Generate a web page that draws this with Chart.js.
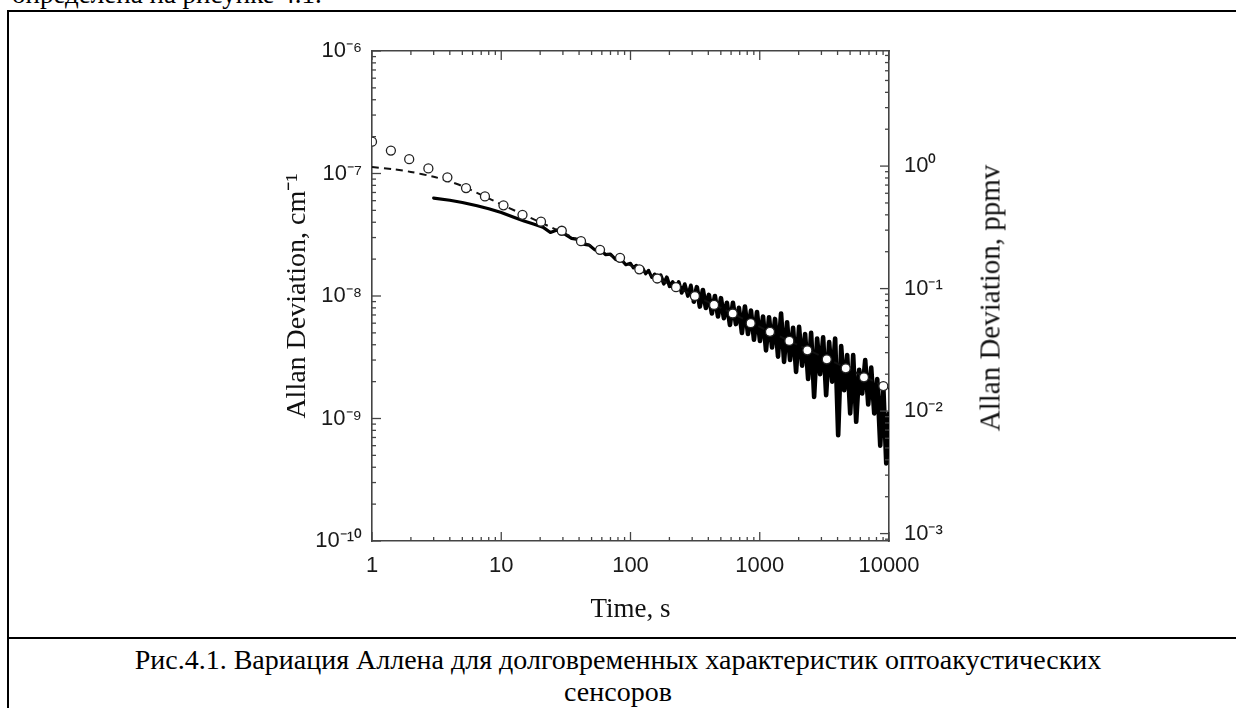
<!DOCTYPE html>
<html><head><meta charset="utf-8">
<script src="https://cdn.jsdelivr.net/npm/chart.js@4.4.1/dist/chart.umd.min.js"></script>
<style>
html,body{margin:0;padding:0;background:#fff;width:1236px;height:708px;overflow:hidden;position:relative}
#top{position:absolute;left:12px;top:-20px;font-family:"Liberation Serif";font-size:27px;line-height:28px;white-space:nowrap;color:#000}
#frame{position:absolute;left:7px;top:10px;width:1260px;height:760px;border-left:2px solid #000;border-top:2px solid #000;box-sizing:border-box}
#sep{position:absolute;left:7px;top:637px;width:1260px;height:2px;background:#000}
#cap{position:absolute;left:0;top:644px;width:1236px;text-align:center;font-family:"Liberation Serif";font-size:28px;line-height:32px;color:#000}
#wrap{position:absolute;left:0;top:0;width:1236px;height:640px}
#rt{position:absolute;left:990px;top:298px;transform:translate(-50%,-50%) rotate(-90deg);font-family:"Liberation Serif";font-size:29px;white-space:nowrap;color:#111}
</style></head>
<body>
<div id="top">определена на рисунке 4.1.</div>
<div id="frame"></div>
<div id="sep"></div>
<div id="wrap"><canvas id="c" width="1236" height="640"></canvas></div>
<div id="rt">Allan Deviation, ppmv</div>
<div id="cap">Рис.4.1. Вариация Аллена для долговременных характеристик оптоакустических<br>сенсоров</div>
<script>
// ---- data ----
const xTickValues = [1, 10, 100, 1000, 10000];
const yTickValues = [1e-10, 1e-9, 1e-8, 1e-7, 1e-6];
const y2TickValues = [1e-3, 1e-2, 1e-1, 1];
const xMin = 1, xMax = 10000;
const yMin = 1e-10, yMax = 1e-6;
const y2Min = 8.7e-4, y2Max = 8.7;

// open circles
const tauCircles = [1.0, 1.4, 1.94, 2.73, 3.83, 5.34, 7.48, 10.4, 14.6, 20.3, 29.4, 41.4, 58.1, 83, 117, 161, 225, 315, 443, 618, 851, 1200, 1694, 2335, 3300, 4625, 6400, 9040];
const devCircles = [1.82e-7, 1.54e-7, 1.31e-7, 1.10e-7, 9.3e-8, 7.6e-8, 6.5e-8, 5.5e-8, 4.6e-8, 4.04e-8, 3.41e-8, 2.8e-8, 2.38e-8, 2.05e-8, 1.65e-8, 1.39e-8, 1.18e-8, 1.0e-8, 8.45e-9, 7.2e-9, 6.0e-9, 5.1e-9, 4.3e-9, 3.6e-9, 3.04e-9, 2.57e-9, 2.17e-9, 1.84e-9];

// dashed fit curve
const tauFit = [1, 1.5, 2, 3, 4, 5, 7, 10, 20, 50, 100, 200, 500, 1000, 2000, 5000, 10000];
const devFit = [1.13e-7, 1.08e-7, 1.03e-7, 9.4e-8, 8.6e-8, 7.9e-8, 6.7e-8, 5.6e-8, 4.0e-8, 2.55e-8, 1.78e-8, 1.25e-8, 8.0e-9, 5.6e-9, 3.95e-9, 2.5e-9, 1.75e-9];

// solid measured curve (noisy)
const tauMeas = [3, 4, 5, 6.5, 8, 10, 12.5, 15, 18, 21, 24, 27, 31, 35, 39, 43, 48, 53, 58, 64, 70, 77, 85, 92,
  100, 105, 111, 117, 124, 131, 138, 146, 154, 162, 171, 181, 191, 201, 212, 224, 236, 249, 263, 278, 293, 309, 326, 344, 363, 383,
  404, 426, 450, 475, 501, 528, 557, 588, 620, 654, 690, 728, 768, 811, 855, 902, 952, 1004, 1060, 1118, 1180, 1245, 1313, 1385,
  1462, 1542, 1627, 1716, 1811, 1910, 2015, 2126, 2243, 2367, 2497, 2634, 2779, 2932, 3093, 3263, 3443, 3632, 3832, 4043, 4265,
  4500, 4747, 5008, 5284, 5574, 5881, 6204, 6546, 6906, 7285, 7686, 8109, 8555, 9025, 9522, 10000];
const devMeas = [6.3e-8, 6.05e-8, 5.8e-8, 5.45e-8, 5.15e-8, 4.8e-8, 4.4e-8, 4.1e-8, 3.85e-8, 3.65e-8, 3.3e-8, 3.45e-8, 3.2e-8, 2.95e-8, 2.9e-8, 2.65e-8, 2.6e-8, 2.38e-8, 2.4e-8, 2.18e-8, 2.2e-8, 1.98e-8, 1.98e-8, 1.8e-8,
  1.85e-8, 1.7e-8, 1.78e-8, 1.6e-8, 1.7e-8, 1.52e-8, 1.62e-8, 1.42e-8, 1.5e-8, 1.36e-8, 1.48e-8, 1.26e-8, 1.42e-8, 1.2e-8, 1.3e-8, 1.12e-8, 1.3e-8, 1.06e-8, 1.25e-8, 1.0e-8, 1.22e-8, 9.0e-9, 1.18e-8, 8.2e-9, 1.12e-8, 8.0e-9,
  1.02e-8, 7.2e-9, 1.0e-8, 6.8e-9, 9.6e-9, 6.6e-9, 8.8e-9, 5.8e-9, 8.8e-9, 5.9e-9, 8.0e-9, 5.0e-9, 8.2e-9, 4.9e-9, 7.6e-9, 4.4e-9, 7.4e-9, 4.3e-9, 6.8e-9, 3.6e-9, 6.7e-9, 3.8e-9, 6.5e-9, 3.2e-9,
  7.2e-9, 2.9e-9, 6.1e-9, 3.0e-9, 5.5e-9, 2.4e-9, 5.6e-9, 2.7e-9, 4.9e-9, 2.1e-9, 5.0e-9, 1.5e-9, 4.5e-9, 2.3e-9, 4.6e-9, 1.55e-9, 4.2e-9, 2.0e-9, 4.5e-9, 7.3e-10, 3.9e-9,
  1.7e-9, 3.3e-9, 1.1e-9, 3.3e-9, 9.4e-10, 2.5e-9, 1.6e-9, 3.0e-9, 1.3e-9, 2.6e-9, 1.1e-9, 2.1e-9, 6.0e-10, 1.9e-9, 4.3e-10, 1.1e-9];

// ---- helpers ----
const SUP = {'-':'\u207B','0':'\u2070','1':'\u00B9','2':'\u00B2','3':'\u00B3','4':'\u2074','5':'\u2075','6':'\u2076','7':'\u2077','8':'\u2078','9':'\u2079'};
const pow10Label = v => '10' + String(Math.round(Math.log10(v))).split('').map(c => SUP[c]).join('');
const pts = (xs, ys) => xs.map((x, i) => ({x, y: ys[i]}));

const tickMarks = {
  id: 'tickMarks',
  afterDatasetsDraw(chart) {
    const {ctx, chartArea: a, scales} = chart;
    ctx.save();
    ctx.strokeStyle = '#444';
    ctx.lineWidth = 1.3;
    [['x','bottom'],['x2','top'],['y','left'],['y2','right']].forEach(([id, side]) => {
      const s = scales[id];
      const lo = Math.floor(Math.log10(s.min)), hi = Math.ceil(Math.log10(s.max));
      for (let e = lo; e <= hi; e++) {
        for (let m = 1; m <= 9; m++) {
          const v = m * Math.pow(10, e);
          if (v < s.min * 0.9999 || v > s.max * 1.0001) continue;
          const p = s.getPixelForValue(v);
          const L = m === 1 ? 9 : 4;
          ctx.beginPath();
          if (side === 'bottom') { ctx.moveTo(p, a.bottom); ctx.lineTo(p, a.bottom - L); }
          else if (side === 'top') { ctx.moveTo(p, a.top); ctx.lineTo(p, a.top + L); }
          else if (side === 'left') { ctx.moveTo(a.left, p); ctx.lineTo(a.left + L, p); }
          else { ctx.moveTo(a.right, p); ctx.lineTo(a.right - L, p); }
          ctx.stroke();
        }
      }
    });
    ctx.restore();
  }
};

const axisBorder = {display: true, color: '#444', width: 1.6};
const tickFont = {family: 'Liberation Sans, Arial, sans-serif', size: 22};

new Chart(document.getElementById('c'), {
  type: 'line',
  data: {
    datasets: [
      {label: 'circles', data: pts(tauCircles, devCircles), showLine: false, pointStyle: 'circle', pointRadius: 4.5,
       pointBorderColor: '#222', pointBackgroundColor: '#fff', pointBorderWidth: 1.3, borderColor: '#222', order: 0, xAxisID: 'x', yAxisID: 'y'},
      {label: 'fit', data: pts(tauFit, devFit), borderColor: '#111', borderWidth: 2, borderDash: [7, 5], pointRadius: 0,
       tension: 0.3, fill: false, order: 1, xAxisID: 'x', yAxisID: 'y'},
      {label: 'measured', data: pts(tauMeas, devMeas), borderColor: '#000', borderWidth: 3.2, pointRadius: 0,
       borderJoinStyle: 'round', borderCapStyle: 'round',
       segment: {borderWidth: c => c.p0.parsed.x >= 300 ? 4.6 : (c.p0.parsed.x >= 150 ? 3.8 : 3.2)},
       tension: 0, fill: false, order: 2, xAxisID: 'x', yAxisID: 'y'}
    ]
  },
  options: {
    responsive: false,
    devicePixelRatio: 1,
    animation: false,
    events: [],
    layout: {padding: {left: 281, right: 287, top: 51, bottom: 0}},
    plugins: {legend: {display: false}, tooltip: {enabled: false}},
    scales: {
      x: {type: 'logarithmic', position: 'bottom', min: xMin, max: xMax,
          grid: {display: false, drawTicks: false}, border: axisBorder,
          ticks: {font: tickFont, color: '#1a1a1a', padding: 12, autoSkip: false, maxRotation: 0, callback: v => String(v)},
          afterBuildTicks: s => { s.ticks = xTickValues.map(v => ({value: v})); },
          title: {display: true, text: 'Time, s', color: '#111', font: {family: 'Liberation Serif', size: 27}, padding: {top: 0, bottom: 14}},
          afterFit: s => { s.height = 99; }},
      x2: {type: 'logarithmic', position: 'top', min: xMin, max: xMax,
          grid: {display: false, drawTicks: false}, border: axisBorder, ticks: {display: false},
          afterFit: s => { s.height = 0; }},
      y: {type: 'logarithmic', position: 'left', min: yMin, max: yMax,
          grid: {display: false, drawTicks: false}, border: axisBorder,
          ticks: {font: tickFont, color: '#1a1a1a', padding: 10, autoSkip: false, callback: v => pow10Label(v)},
          afterBuildTicks: s => { s.ticks = yTickValues.map(v => ({value: v})); },
          title: {display: true, text: 'Allan Deviation, cm\u207B\u00B9', color: '#111', font: {family: 'Liberation Serif', size: 28}, padding: {top: 0, bottom: 0}},
          afterFit: s => { s.width = 91; }},
      y2: {type: 'logarithmic', position: 'right', min: y2Min, max: y2Max,
          grid: {display: false, drawTicks: false}, border: axisBorder,
          ticks: {font: tickFont, color: '#1a1a1a', padding: 15, autoSkip: false, callback: v => pow10Label(v)},
          afterBuildTicks: s => { s.ticks = y2TickValues.map(v => ({value: v})); },
          afterFit: s => { s.width = 60; }}
    }
  },
  plugins: [tickMarks]
});
</script>
</body></html>
